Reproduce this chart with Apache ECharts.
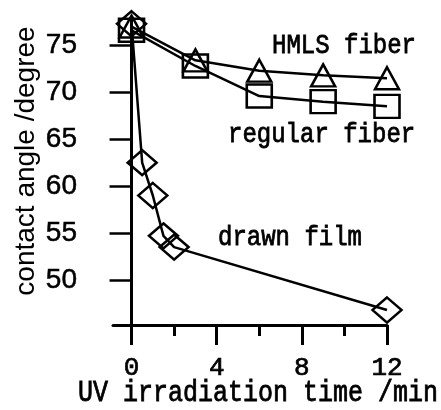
<!DOCTYPE html>
<html>
<head>
<meta charset="utf-8">
<script src="https://cdn.jsdelivr.net/npm/echarts@6/dist/echarts.min.js"></script>
<style>
  html, body { margin: 0; padding: 0; background: #fff; }
  #main { width: 441px; height: 410px; }
</style>
</head>
<body>
<div id="main"></div>
<script>
// 数据
var timeFiber = [0, 3, 6, 9, 12];
var hmlsFiber = [77.0, 73.4, 72.3, 71.8, 71.5];
var regularFiber = [76.6, 72.8, 69.6, 69.0, 68.5];
var timeFilm = [0, 0.5, 1, 1.5, 2, 12];
var drawnFilm = [77.3, 62.5, 59.0, 54.7, 53.5, 46.8];
var xTicks = [0, 4, 8, 12];
var xMinorTicks = [2, 6, 10];
var yTicks = [50, 55, 60, 65, 70, 75];

function pairs(xs, ys) {
  return xs.map(function (x, i) { return [x, ys[i]]; });
}

var mono = '"Liberation Mono", "DejaVu Sans Mono", monospace';
var sans = '"Liberation Sans", Arial, sans-serif';
var openMarker = { color: 'rgba(0,0,0,0)', borderColor: '#000', borderWidth: 2.5 };

// 文字样式：等宽字体，略加粗，纵向拉长
function monoText(x, y, txt, size, align) {
  return {
    type: 'text', x: x, y: y, scaleY: 1.15,
    style: {
      text: txt, font: size + 'px ' + mono, fill: '#000',
      stroke: '#000', lineWidth: 0.7,
      align: align || 'left', verticalAlign: 'middle'
    }
  };
}

var chartDom = document.getElementById('main');
var myChart = echarts.init(chartDom);
var option = {
  animation: false,
  backgroundColor: '#fff',
  grid: { left: 113, top: 20, right: 54, bottom: 85 },
  xAxis: [
    {
      type: 'value',
      min: -0.87,
      max: 12,
      axisLine: { show: true, lineStyle: { color: '#000', width: 3 } },
      axisTick: { show: true, customValues: xTicks, length: 20, lineStyle: { color: '#000', width: 3 } },
      axisLabel: {
        customValues: xTicks, color: '#000', fontFamily: mono, fontSize: 26, margin: 30,
        textBorderColor: '#000', textBorderWidth: 0.7
      },
      splitLine: { show: false }
    },
    {
      // 次刻度（短）
      type: 'value',
      position: 'bottom',
      min: -0.87,
      max: 12,
      axisLine: { show: false },
      axisTick: { show: true, customValues: xMinorTicks, length: 11, lineStyle: { color: '#000', width: 3 } },
      axisLabel: { show: false },
      splitLine: { show: false }
    }
  ],
  yAxis: {
    type: 'value',
    min: 45.2,
    max: 77.7,
    axisLine: { show: true, lineStyle: { color: '#000', width: 3 } },
    axisTick: { show: true, customValues: yTicks, length: 22, lineStyle: { color: '#000', width: 2.5 } },
    axisLabel: {
      customValues: yTicks, color: '#000', fontFamily: sans, fontSize: 28, margin: 36,
      textBorderColor: '#000', textBorderWidth: 0.5
    },
    splitLine: { show: false }
  },
  graphic: [
    monoText(258, 393, 'UV irradiation time /min', 25, 'center'),
    { type: 'text', x: 26, y: 161, rotation: Math.PI / 2, style: { text: 'contact angle /degree', font: '28px ' + sans, fill: '#000', align: 'center', verticalAlign: 'middle' } },
    monoText(272, 46, 'HMLS fiber', 24),
    monoText(228, 135, 'regular fiber', 24),
    monoText(218, 238, 'drawn film', 24)
  ],
  series: [
    {
      name: 'regular fiber',
      type: 'line',
      clip: false,
      data: pairs(timeFiber, regularFiber),
      symbol: 'rect',
      symbolSize: [25, 23],
      itemStyle: openMarker,
      lineStyle: { color: '#000', width: 2.5 }
    },
    {
      name: 'HMLS fiber',
      type: 'line',
      clip: false,
      data: pairs(timeFiber, hmlsFiber),
      symbol: 'triangle',
      symbolSize: [24, 22],
      itemStyle: openMarker,
      lineStyle: { color: '#000', width: 2.5 }
    },
    {
      name: 'drawn film',
      type: 'line',
      clip: false,
      data: pairs(timeFilm, drawnFilm),
      symbol: 'diamond',
      symbolSize: [29, 25],
      itemStyle: openMarker,
      lineStyle: { color: '#000', width: 2.5 }
    }
  ]
};
myChart.setOption(option);
</script>
</body>
</html>
